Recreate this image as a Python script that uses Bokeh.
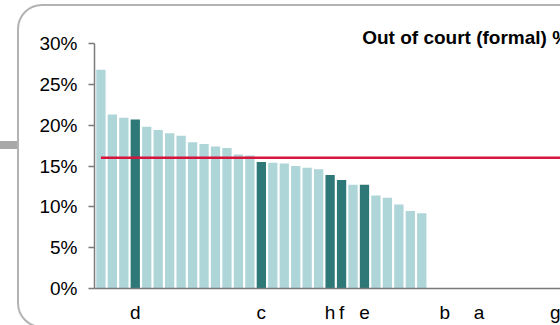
from bokeh.plotting import figure
from bokeh.models import (ColumnDataSource, FixedTicker, PrintfTickFormatter,
                          Range1d, InlineStyleSheet)
from bokeh.embed import file_html
from bokeh.resources import INLINE

# ---- data ----
values = [26.8, 21.3, 20.9, 20.7, 19.8, 19.4, 19.0, 18.7, 17.9, 17.7, 17.4, 17.2,
          16.4, 16.3, 15.5, 15.4, 15.3, 15.0, 14.8, 14.6, 13.9, 13.3, 12.7, 12.7,
          11.4, 11.1, 10.3, 9.5, 9.2]
label_pos = [4, 15, 21, 22, 24, 31, 34, 41]
label_txt = ["d", "c", "h", "f", "e", "b", "a", "g"]
average = 16.0
n_slots = 45
y_ticks = [0, 5, 10, 15, 20, 25, 30]
title_text = "Out of court (formal) %"

LIGHT = "#aed5d8"
DARK = "#2e7878"
RED = "#d6153c"
FONT = "Liberation Sans"

xs = list(range(1, len(values) + 1))
colors = [DARK if x in label_pos else LIGHT for x in xs]
src = ColumnDataSource(dict(x=xs, top=values, color=colors))

W, H = 560, 325
step = 11.46
left_b, top_b, bottom_b = 94, 43, 36
x0 = 1 - 6.4 / step

# rounded panel border and connector bar (page decoration, drawn with CSS)
deco = InlineStyleSheet(css="""
:host { position: relative; overflow: hidden; }
:host::before {
  content: ""; position: absolute; z-index: 5; pointer-events: none;
  left: 17px; top: 4px; width: 620px; height: 324px; box-sizing: border-box;
  border: 2px solid #b3b3b3; border-radius: 25px;
}
:host::after {
  content: ""; position: absolute; z-index: 5; pointer-events: none;
  left: 0px; top: 141px; width: 17px; height: 7.5px; background: #a8a8a8;
}
""")

p = figure(width=W, height=H, output_backend="svg", toolbar_location=None,
           x_range=Range1d(x0, x0 + (W - left_b) / step), y_range=Range1d(0, 30),
           min_border_left=left_b, min_border_right=0, min_border_top=top_b,
           min_border_bottom=bottom_b, stylesheets=[deco])
p.outline_line_color = None
p.xgrid.visible = False
p.ygrid.visible = False
p.background_fill_color = "white"
p.border_fill_color = "white"

p.title.text = title_text
p.title.align = "left"
p.title.offset = 267.7
p.title.standoff = -8
p.title.text_font = FONT
p.title.text_font_style = "bold"
p.title.text_font_size = "19px"
p.title.text_color = "#000000"

p.vbar(x="x", top="top", bottom=0, width=0.81, fill_color="color",
       line_color=None, source=src)
p.line(x=[xs[0], n_slots], y=[average, average], line_color=RED, line_width=2.5)

# x axis
xa = p.xaxis[0]
xa.ticker = FixedTicker(ticks=label_pos)
xa.major_label_overrides = {pos: t for pos, t in zip(label_pos, label_txt)}
xa.major_tick_line_color = None
xa.major_tick_out = 0
xa.major_tick_in = 0
xa.minor_tick_line_color = None
xa.axis_line_color = "#7a7a7a"
xa.axis_line_width = 1.5
xa.major_label_text_font = FONT
xa.major_label_text_font_size = "19px"
xa.major_label_text_color = "#000000"
xa.major_label_standoff = 13

# y axis
ya = p.yaxis[0]
ya.ticker = FixedTicker(ticks=y_ticks)
ya.formatter = PrintfTickFormatter(format="%d%%")
ya.major_tick_out = 6
ya.major_tick_in = 0
ya.minor_tick_line_color = None
ya.axis_line_color = "#7a7a7a"
ya.major_tick_line_color = "#7a7a7a"
ya.axis_line_width = 1.5
ya.major_tick_line_width = 1.5
ya.major_label_text_font = FONT
ya.major_label_text_font_size = "19px"
ya.major_label_text_color = "#000000"
ya.major_label_standoff = 11

open("out.html", "w").write(file_html(p, INLINE))
